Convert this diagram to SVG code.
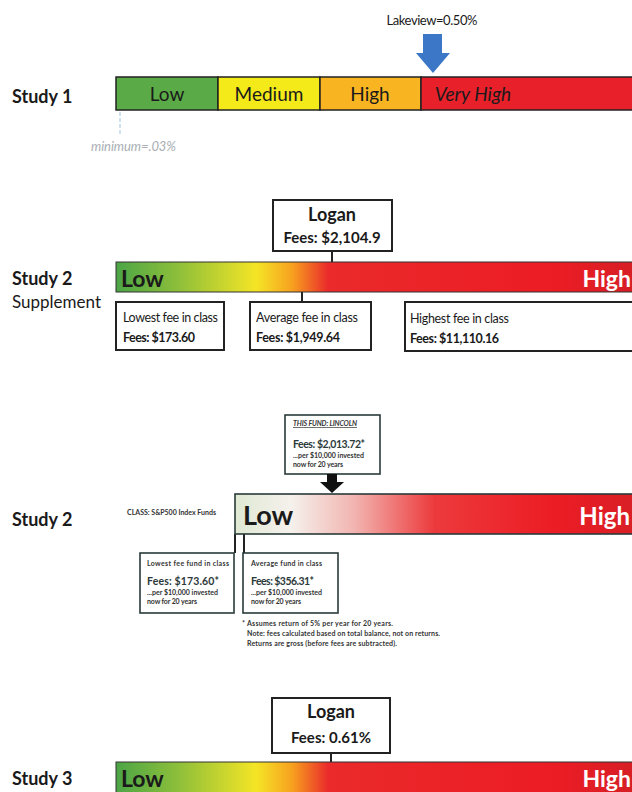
<svg xmlns="http://www.w3.org/2000/svg" width="632" height="792" viewBox="0 0 632 792">
<defs>
<linearGradient id="g1" x1="0" y1="0" x2="1" y2="0">
<stop offset="0" stop-color="#4ca546"/>
<stop offset="0.12" stop-color="#8dbf3a"/>
<stop offset="0.27" stop-color="#f4e526"/>
<stop offset="0.34" stop-color="#f7a11f"/>
<stop offset="0.41" stop-color="#ea2a2b"/>
<stop offset="0.85" stop-color="#ec1c24"/>
<stop offset="1" stop-color="#d61f26"/>
</linearGradient>
<linearGradient id="g2" x1="0" y1="0" x2="1" y2="0">
<stop offset="0" stop-color="#dfe9d3"/>
<stop offset="0.14" stop-color="#f5f1ec"/>
<stop offset="0.3" stop-color="#f2b4b0"/>
<stop offset="0.5" stop-color="#ec3a3c"/>
<stop offset="0.8" stop-color="#ec1c24"/>
<stop offset="1" stop-color="#d91f26"/>
</linearGradient>
</defs>
<style>
text{font-family:Lato,"Open Sans","Liberation Sans",sans-serif;fill:#1a1a1a}
.study{font-size:18px;font-weight:bold}
.box{fill:#fff;stroke:#222;stroke-width:2}
.box3{fill:#fff;stroke:#2a3a3a;stroke-width:1.6}
.line{stroke:#222;stroke-width:2;fill:none}
.seg{font-size:19px}
.bold{font-weight:bold}
.fs{font-size:12.5px}
.tiny{font-size:7px;font-weight:bold;fill:#333}
.fee3{font-size:10.5px;font-weight:bold;fill:#2b3a3a}
.hi{fill:#fff;font-weight:bold}
</style>

<!-- Study 1 -->
<g id="study1">
<text class="study" x="12" y="103">Study 1</text>
<rect x="116" y="77" width="102" height="33" fill="#5aab47" stroke="#222" stroke-width="1.5"/>
<rect x="218" y="77" width="102" height="33" fill="#f4ea1a" stroke="#222" stroke-width="1.5"/>
<rect x="320" y="77" width="101" height="33" fill="#f9b521" stroke="#222" stroke-width="1.5"/>
<rect x="421" y="77" width="213" height="33" fill="#e8202a" stroke="#222" stroke-width="1.5"/>
<text class="seg" x="167" y="101" text-anchor="middle">Low</text>
<text class="seg" x="269" y="101" text-anchor="middle">Medium</text>
<text class="seg" x="370" y="101" text-anchor="middle">High</text>
<text class="seg" x="473" y="101" text-anchor="middle" font-style="italic">Very High</text>
</g>
<g id="lakeview">
<text x="432" y="25" text-anchor="middle" font-size="13" textLength="91">Lakeview=0.50%</text>
<polygon points="423,34 442,34 442,53 450,53 433,73 416,53 423,53" fill="#3b77c6"/>
</g>
<g id="minimum">
<line x1="120" y1="112" x2="120" y2="135" stroke="#9ec3e0" stroke-width="1" stroke-dasharray="4,2"/>
<text x="91" y="151" font-size="13" font-style="italic" style="fill:#a8aeb4" textLength="85">minimum=.03%</text>
</g>

<!-- connectors -->
<g id="connectors">
<line class="line" x1="332" y1="251" x2="332" y2="262"/>
<line class="line" x1="302" y1="292" x2="302" y2="302"/>
<line class="line" x1="235" y1="534" x2="235" y2="553"/>
<line class="line" x1="244" y1="534" x2="244" y2="553"/>
<line class="line" x1="331" y1="753" x2="331" y2="762"/>
</g>

<!-- Study 2 Supplement -->
<g id="study2s">
<text class="study" x="12" y="285">Study 2</text>
<text x="12" y="308" font-size="17">Supplement</text>
<rect x="116" y="262" width="518" height="30" fill="url(#g1)" stroke="#333" stroke-width="1"/>
<text x="121" y="287" font-size="23" class="bold">Low</text>
<text x="631" y="287" font-size="23" text-anchor="end" class="hi">High</text>
</g>
<g id="logan2">
<rect class="box" x="273" y="200" width="119" height="51"/>
<text x="332" y="221" text-anchor="middle" font-size="18" class="bold">Logan</text>
<text x="332" y="243" text-anchor="middle" font-size="15" class="bold">Fees: $2,104.9</text>
</g>
<g id="lowest2">
<rect class="box" x="116" y="302" width="108" height="48"/>
<text class="fs" x="123" y="322" textLength="95">Lowest fee in class</text>
<text class="fs bold" x="123" y="342" textLength="72">Fees: $173.60</text>
</g>
<g id="average2">
<rect class="box" x="250" y="302" width="121" height="48"/>
<text class="fs" x="256" y="322" textLength="102">Average fee in class</text>
<text class="fs bold" x="256" y="342" textLength="84">Fees: $1,949.64</text>
</g>
<g id="highest2">
<rect class="box" x="405" y="302" width="229" height="49"/>
<text class="fs" x="410" y="323" textLength="99">Highest fee in class</text>
<text class="fs bold" x="410" y="343" textLength="89">Fees: $11,110.16</text>
</g>

<!-- Study 2 -->
<g id="study2">
<text class="study" x="12" y="526">Study 2</text>
<text class="tiny" x="127" y="515" textLength="89">CLASS: S&amp;P500 Index Funds</text>
<rect x="235" y="494" width="399" height="40" fill="url(#g2)" stroke="#2a3a3a" stroke-width="1.6"/>
<text x="243" y="525" font-size="27" class="bold">Low</text>
<text x="630" y="525" font-size="24" text-anchor="end" class="hi">High</text>
</g>
<g id="lincoln">
<rect class="box3" x="285" y="415" width="95" height="59"/>
<text class="tiny" x="293" y="426" font-style="italic" text-decoration="underline" textLength="64">THIS FUND: LINCOLN</text>
<text class="fee3" x="293" y="448" textLength="72">Fees:  $2,013.72*</text>
<text class="tiny" x="293" y="458" font-weight="normal" textLength="71">...per $10,000 invested</text>
<text class="tiny" x="293" y="467" textLength="50">now for 20 years</text>
<polygon points="327,474 337,474 337,482 344,482 332,493 320,482 327,482" fill="#111"/>
</g>
<g id="lowest3">
<rect class="box3" x="140" y="553" width="94" height="60"/>
<text class="tiny" x="147" y="566" font-weight="normal" textLength="82">Lowest fee fund in class</text>
<text class="fee3" x="147" y="585" textLength="72">Fees:  $173.60*</text>
<text class="tiny" x="147" y="595" textLength="71">...per $10,000 invested</text>
<text class="tiny" x="147" y="604" textLength="50">now for 20 years</text>
</g>
<g id="average3">
<rect class="box3" x="243" y="553" width="95" height="60"/>
<text class="tiny" x="251" y="566" font-weight="normal" textLength="71">Average fund in class</text>
<text class="fee3" x="251" y="585" textLength="63">Fees: $356.31*</text>
<text class="tiny" x="251" y="595" textLength="71">...per $10,000 invested</text>
<text class="tiny" x="251" y="604" textLength="50">now for 20 years</text>
</g>
<g id="footnote">
<text class="tiny" x="242" y="626" textLength="151">* Assumes return of 5% per year for 20 years.</text>
<text class="tiny" x="247" y="636" textLength="193">Note: fees calculated based on total balance, not on returns.</text>
<text class="tiny" x="247" y="646" textLength="150">Returns are gross (before fees are subtracted).</text>
</g>

<!-- Study 3 -->
<g id="study3">
<text class="study" x="12" y="785">Study 3</text>
<rect x="116" y="762" width="518" height="32" fill="url(#g1)" stroke="#333" stroke-width="1"/>
<text x="121" y="787" font-size="23" class="bold">Low</text>
<text x="631" y="787" font-size="23" text-anchor="end" class="hi">High</text>
</g>
<g id="logan3">
<rect class="box" x="272" y="698" width="118" height="55"/>
<text x="331" y="718" text-anchor="middle" font-size="18" class="bold">Logan</text>
<text x="331" y="743" text-anchor="middle" font-size="15" class="bold">Fees: 0.61%</text>
</g>
</svg>
